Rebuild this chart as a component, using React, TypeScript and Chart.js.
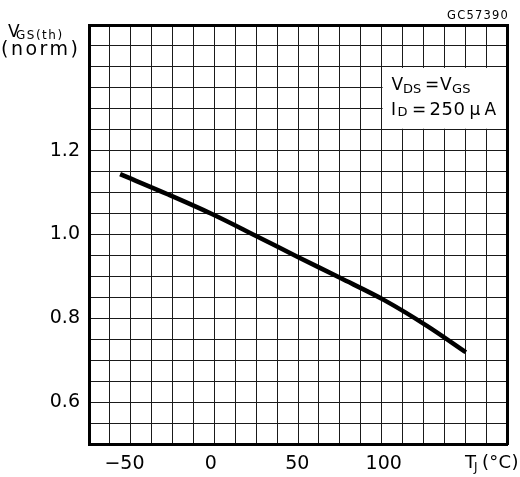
import React, { useEffect, useRef } from 'react';
import { Chart, registerables } from 'chart.js';

Chart.register(...registerables);

// ---- data ----
const TEMP_C = [-52.5, -25, 0, 25, 50, 75, 100, 125, 147.5];
const VGS_NORM = [1.144, 1.096, 1.05, 0.999, 0.947, 0.896, 0.844, 0.782, 0.719];

const X_TICKS = [-50, 0, 50, 100];
const X_TICK_LABELS = ['\u221250', '0', '50', '100'];
const Y_TICKS = [0.6, 0.8, 1.0, 1.2];
const Y_TICK_LABELS = ['0.6', '0.8', '1.0', '1.2'];

const X_MIN = -70.5;
const X_MAX = 171.3;
const Y_MIN = 0.5;
const Y_MAX = 1.5;
const GRID_DIVS = 20;

const FONT = "'DejaVu Sans', sans-serif";

function txt(ctx: any, s: string, x: number, y: number, size: number, ls = 0, align = 'left') {
  ctx.font = `${size}px ${FONT}`;
  ctx.letterSpacing = `${ls}px`;
  ctx.textAlign = align;
  ctx.textBaseline = 'alphabetic';
  ctx.fillStyle = '#000';
  ctx.fillText(s, x, y);
}

const annotPlugin = {
  id: 'annot',
  beforeDatasetsDraw(chart: any) {
    const { ctx, scales } = chart;
    const gx = scales.gx;
    const gy = scales.gy;
    const x0 = gx.getPixelForValue(14);
    const x1 = gx.getPixelForValue(20);
    const y0 = gy.getPixelForValue(18);
    const y1 = gy.getPixelForValue(15);
    ctx.save();
    ctx.fillStyle = '#fff';
    ctx.fillRect(x0 + 1, y0 + 1, x1 - x0 - 1, y1 - y0 - 2);
    // V_DS = V_GS
    txt(ctx, 'V', x0 + 10, y0 + 23, 17, 0);
    txt(ctx, 'DS', x0 + 21.5, y0 + 26, 13, 0);
    txt(ctx, '=', x0 + 43.5, y0 + 23, 17, 0);
    txt(ctx, 'V', x0 + 58.5, y0 + 23, 17, 0);
    txt(ctx, 'GS', x0 + 70.5, y0 + 26, 13, 0);
    // I_D = 250 µA
    txt(ctx, 'I', x0 + 9.5, y0 + 48, 17, 0);
    txt(ctx, 'D', x0 + 16, y0 + 49, 13, 0);
    txt(ctx, '=', x0 + 30.5, y0 + 48, 17, 0);
    txt(ctx, '250', x0 + 48, y0 + 48, 18, 0.5);
    txt(ctx, '\u03bc', x0 + 88, y0 + 48, 17, 0);
    txt(ctx, 'A', x0 + 103, y0 + 48, 17, 0);
    ctx.restore();
  },
  afterDraw(chart: any) {
    const { ctx } = chart;
    ctx.save();
    // y title
    txt(ctx, 'V', 8, 37, 17, 0);
    txt(ctx, 'GS(th)', 16, 39, 12, 1.5);
    txt(ctx, '(norm)', 1, 55, 19, 2.5);
    // x title
    txt(ctx, 'T', 465, 468, 18, 0);
    txt(ctx, 'J', 474, 471, 12, 0);
    txt(ctx, '(\u00b0C)', 482, 468, 18, 0.3);
    // figure code
    txt(ctx, 'GC57390', 509, 19, 11.5, 1.2, 'right');
    ctx.letterSpacing = '0px';
    ctx.restore();
  },
};

export default function App() {
  const ref = useRef<HTMLCanvasElement | null>(null);

  useEffect(() => {
    if (!ref.current) return;
    const gridAxis = (position: string) => ({
      type: 'linear',
      position,
      min: 0,
      max: GRID_DIVS,
      ticks: { stepSize: 1, display: false },
      grid: { display: true, color: '#1a1a1a', lineWidth: 1, drawTicks: false, tickLength: 0 },
      border: { display: true, color: '#000', width: 3, z: 1 },
      afterFit: (s: any) => {
        if (position === 'top') s.height = 0;
        else s.width = 0;
      },
    });
    const chart = new Chart(ref.current, {
      type: 'line',
      data: {
        datasets: [
          {
            data: TEMP_C.map((t, i) => ({ x: t, y: VGS_NORM[i] })),
            borderColor: '#000',
            borderWidth: 4.5,
            pointRadius: 0,
            cubicInterpolationMode: 'monotone',
            fill: false,
            xAxisID: 'x',
            yAxisID: 'y',
          },
        ],
      },
      options: {
        responsive: false,
        animation: false,
        devicePixelRatio: 1,
        layout: { padding: { top: 25, right: 13, left: 0, bottom: 0 } },
        plugins: { legend: { display: false }, tooltip: { enabled: false } },
        scales: {
          x: {
            type: 'linear',
            position: 'bottom',
            min: X_MIN,
            max: X_MAX,
            afterBuildTicks: (s: any) => {
              s.ticks = X_TICKS.map((v) => ({ value: v }));
            },
            ticks: {
              autoSkip: false,
              maxRotation: 0,
              padding: 9,
              color: '#000',
              font: { family: FONT, size: 19 },
              callback: (v: any) => X_TICK_LABELS[X_TICKS.indexOf(v)] ?? '',
            },
            grid: { display: false, drawTicks: false, tickLength: 0 },
            border: { display: true, color: '#000', width: 3, z: 1 },
            afterFit: (s: any) => {
              s.height = 33;
            },
          },
          y: {
            type: 'linear',
            position: 'left',
            min: Y_MIN,
            max: Y_MAX,
            afterBuildTicks: (s: any) => {
              s.ticks = Y_TICKS.map((v) => ({ value: v }));
            },
            ticks: {
              autoSkip: false,
              padding: 9,
              color: '#000',
              font: { family: FONT, size: 19 },
              callback: (v: any) => {
                const i = Y_TICKS.findIndex((t) => Math.abs(t - v) < 1e-9);
                return i >= 0 ? Y_TICK_LABELS[i] : '';
              },
            },
            grid: { display: false, drawTicks: false, tickLength: 0 },
            border: { display: true, color: '#000', width: 3, z: 1 },
            afterFit: (s: any) => {
              s.width = 89;
            },
          },
          gx: gridAxis('top'),
          gy: gridAxis('right'),
        },
      } as any,
      plugins: [annotPlugin],
    });
    return () => chart.destroy();
  }, []);

  return (
    <div style={{ position: 'absolute', left: 0, top: 0, width: 520, height: 477, background: '#fff' }}>
      <canvas ref={ref} width={520} height={477} style={{ display: 'block' }} />
    </div>
  );
}
